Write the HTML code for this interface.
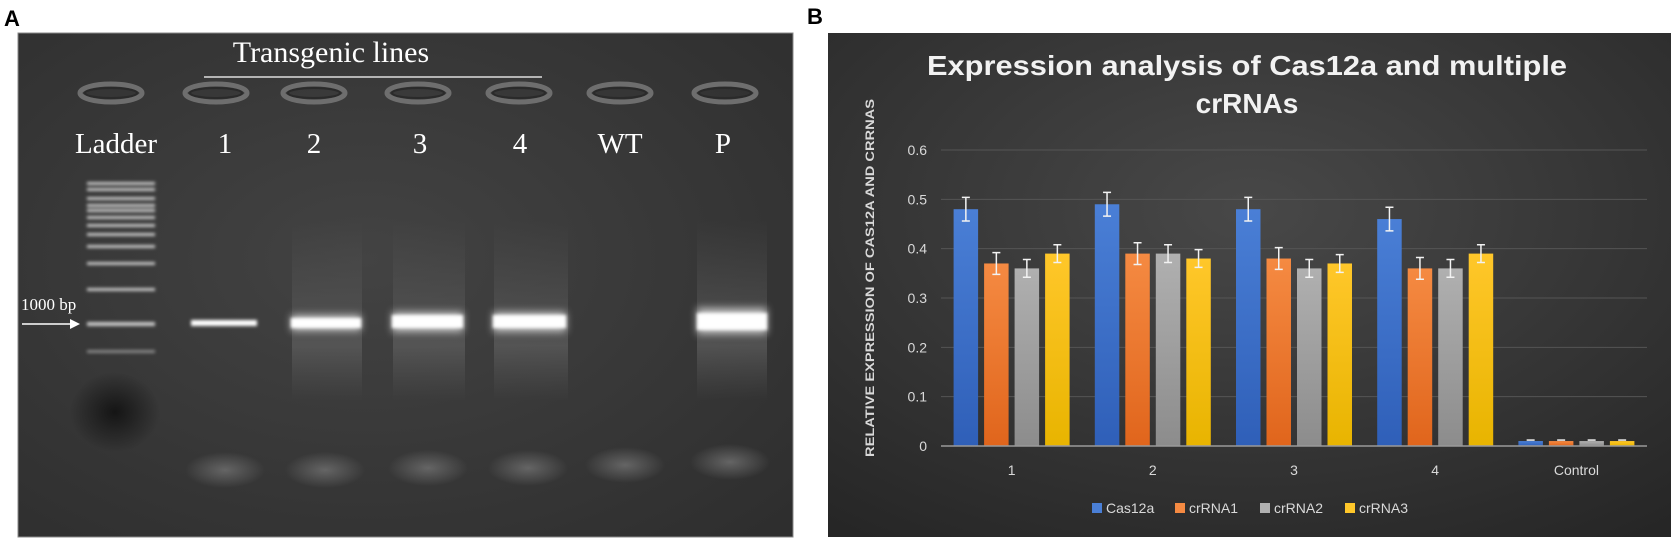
<!DOCTYPE html>
<html><head><meta charset="utf-8"><style>
html,body{margin:0;padding:0;background:#fff;width:1671px;height:539px;overflow:hidden}
svg{display:block}
</style></head><body>
<svg width="1671" height="539" viewBox="0 0 1671 539" xmlns="http://www.w3.org/2000/svg">
<defs>
<radialGradient id="gelbg" cx="0.45" cy="0.45" r="0.75">
<stop offset="0" stop-color="#434343"/><stop offset="1" stop-color="#2e2e2e"/></radialGradient>
<radialGradient id="chartbg" cx="0.5" cy="0.35" r="0.8">
<stop offset="0" stop-color="#484848"/><stop offset="1" stop-color="#262626"/></radialGradient>
<radialGradient id="blob" cx="0.5" cy="0.5" r="0.5">
<stop offset="0" stop-color="#6a6a6a" stop-opacity="0.9"/><stop offset="1" stop-color="#6a6a6a" stop-opacity="0"/></radialGradient>
<radialGradient id="dark" cx="0.5" cy="0.5" r="0.5">
<stop offset="0" stop-color="#111" stop-opacity="0.9"/><stop offset="1" stop-color="#111" stop-opacity="0"/></radialGradient>
<linearGradient id="smear" x1="0" y1="0" x2="0" y2="1">
<stop offset="0" stop-color="#555" stop-opacity="0"/><stop offset="0.7" stop-color="#5e5e5e" stop-opacity="0.7"/><stop offset="1" stop-color="#555" stop-opacity="0"/></linearGradient>
<filter id="glow" x="-20%" y="-100%" width="140%" height="300%"><feGaussianBlur stdDeviation="1.5"/></filter>
<filter id="glow2" x="-30%" y="-200%" width="160%" height="500%"><feGaussianBlur stdDeviation="4"/></filter>
</defs>

<!-- Panel A -->
<text x="4" y="26" font-family="Liberation Sans, sans-serif" font-weight="bold" font-size="22" fill="#000">A</text>
<g>
<rect x="18" y="33" width="775" height="504" fill="url(#gelbg)" stroke="#888" stroke-width="1"/>
<ellipse cx="115" cy="412" rx="45" ry="40" fill="url(#dark)"/>
<g fill="url(#smear)">
<rect x="292" y="220" width="70" height="180"/><rect x="393" y="220" width="72" height="180"/>
<rect x="494" y="220" width="74" height="180"/><rect x="697" y="220" width="70" height="180"/>
</g>
<g fill="none" stroke="#6e6e6e" stroke-width="5">
<ellipse cx="111" cy="93" rx="31" ry="9"/><ellipse cx="216" cy="93" rx="31" ry="9"/>
<ellipse cx="314" cy="93" rx="31" ry="9"/><ellipse cx="418" cy="93" rx="31" ry="9"/>
<ellipse cx="519" cy="93" rx="31" ry="9"/><ellipse cx="620" cy="93" rx="31" ry="9"/>
<ellipse cx="725" cy="93" rx="31" ry="9"/>
</g>
<g fill="none" stroke="#2a2a2a" stroke-width="2">
<ellipse cx="111" cy="93" rx="26" ry="5"/><ellipse cx="216" cy="93" rx="26" ry="5"/>
<ellipse cx="314" cy="93" rx="26" ry="5"/><ellipse cx="418" cy="93" rx="26" ry="5"/>
<ellipse cx="519" cy="93" rx="26" ry="5"/><ellipse cx="620" cy="93" rx="26" ry="5"/>
<ellipse cx="725" cy="93" rx="26" ry="5"/>
</g>
<g fill="#c8c8c8" filter="url(#glow)">
<rect x="87" y="182" width="68" height="3"/><rect x="87" y="188" width="68" height="3"/>
<rect x="87" y="197" width="68" height="3"/><rect x="87" y="204" width="68" height="3"/>
<rect x="87" y="209" width="68" height="3"/><rect x="87" y="216" width="68" height="3"/>
<rect x="87" y="224" width="68" height="3"/><rect x="87" y="233" width="68" height="3"/>
<rect x="87" y="245" width="68" height="3"/><rect x="87" y="262" width="68" height="3"/>
<rect x="87" y="288" width="68" height="3"/><rect x="87" y="322" width="68" height="4"/>
<rect x="87" y="350" width="68" height="3" fill="#888"/>
</g>
<g fill="#ddd" filter="url(#glow2)" opacity="0.8">
<rect x="291" y="315" width="70" height="16"/>
<rect x="392" y="312" width="71" height="20"/><rect x="493" y="312" width="73" height="20"/>
<rect x="697" y="308" width="70" height="26"/>
</g>
<g fill="#fff" filter="url(#glow)">
<rect x="191" y="320" width="66" height="6"/><rect x="291" y="318" width="70" height="10"/>
<rect x="392" y="315" width="71" height="13"/><rect x="493" y="315" width="73" height="13"/>
<rect x="697" y="313" width="70" height="17"/>
</g>
<g fill="url(#blob)">
<ellipse cx="225" cy="470" rx="40" ry="18"/><ellipse cx="325" cy="470" rx="40" ry="18"/>
<ellipse cx="428" cy="468" rx="40" ry="18"/><ellipse cx="528" cy="468" rx="40" ry="18"/>
<ellipse cx="625" cy="465" rx="40" ry="18"/><ellipse cx="730" cy="462" rx="40" ry="18"/>
</g>
<g font-family="Liberation Serif, serif" fill="#fff">
<text x="331" y="62" font-size="30" text-anchor="middle">Transgenic lines</text>
<line x1="204" y1="77" x2="542" y2="77" stroke="#ddd" stroke-width="1.5"/>
<g font-size="29" text-anchor="middle">
<text x="116" y="153">Ladder</text>
<text x="225" y="153">1</text>
<text x="314" y="153">2</text>
<text x="420" y="153">3</text>
<text x="520" y="153">4</text>
<text x="620" y="153">WT</text>
<text x="723" y="153">P</text>
</g>
<text x="21" y="310" font-size="17">1000 bp</text>
</g>
<g>
<line x1="22" y1="324" x2="72" y2="324" stroke="#fff" stroke-width="1.5"/>
<polygon points="80,324 70,319 70,329" fill="#fff"/>
</g>
</g>

<!-- Panel B -->
<text x="807" y="24" font-family="Liberation Sans, sans-serif" font-weight="bold" font-size="22" fill="#000">B</text>
<rect x="828" y="33" width="843" height="504" fill="url(#chartbg)"/>
<g font-family="Liberation Sans, sans-serif" font-weight="bold" fill="#f2f2f2" font-size="28" text-anchor="middle">
<text x="1247" y="75" textLength="640" lengthAdjust="spacingAndGlyphs">Expression analysis of Cas12a and multiple</text>
<text x="1247" y="113">crRNAs</text>
</g>
<text transform="translate(874,278) rotate(-90)" text-anchor="middle" font-family="Liberation Sans, sans-serif" font-weight="bold" font-size="12" fill="#d9d9d9" textLength="358" lengthAdjust="spacingAndGlyphs">RELATIVE EXPRESSION OF CAS12A  AND CRRNAS</text>
<g id="chart"></g>
</svg>
<script>
const categories = ["1","2","3","4","Control"];
const seriesNames = ["Cas12a","crRNA1","crRNA2","crRNA3"];
const cas12a = [0.48,0.49,0.48,0.46,0.01];
const crRNA1 = [0.37,0.39,0.38,0.36,0.01];
const crRNA2 = [0.36,0.39,0.36,0.36,0.01];
const crRNA3 = [0.39,0.38,0.37,0.39,0.01];
const errors = [0.024,0.022,0.018,0.018];
const yTicks = [0,0.1,0.2,0.3,0.4,0.5,0.6];

const NS='http://www.w3.org/2000/svg';
const g=document.getElementById('chart');
const series=[cas12a,crRNA1,crRNA2,crRNA3];
const colors=[["#4a7fd6","#2f5fb8"],["#f58a42","#e0651c"],["#b0b0b0","#8c8c8c"],["#ffc72a","#e8b400"]];
const x0=941,x1=1647,yBase=446,yTop=150,yMax=0.6;
const y=v=>yBase-(v/yMax)*(yBase-yTop);
const band=(x1-x0)/categories.length;
const barW=24.5,step=30.5;
function mk(t,a){const e=document.createElementNS(NS,t);for(const k in a)e.setAttribute(k,a[k]);g.appendChild(e);return e;}
const defs=mk('defs',{});
colors.forEach((c,i)=>{const lg=document.createElementNS(NS,'linearGradient');lg.setAttribute('id','bg'+i);lg.setAttribute('x1','0');lg.setAttribute('y1','0');lg.setAttribute('x2','0');lg.setAttribute('y2','1');
const s1=document.createElementNS(NS,'stop');s1.setAttribute('offset','0');s1.setAttribute('stop-color',c[0]);
const s2=document.createElementNS(NS,'stop');s2.setAttribute('offset','1');s2.setAttribute('stop-color',c[1]);lg.appendChild(s1);lg.appendChild(s2);defs.appendChild(lg);});
yTicks.forEach(t=>{
  if(t>0){const l=mk('line',{x1:x0,x2:x1,y1:y(t),y2:y(t),stroke:'#555',"stroke-width":1});
  
  }
  const tx=mk('text',{x:927,y:y(t)+5,"text-anchor":'end',"font-family":'Liberation Sans Narrow, Liberation Sans, sans-serif',"font-size":14,fill:'#d9d9d9'});
  tx.textContent=String(t);
  
  
});
categories.forEach((c,ci)=>{
  const cx=x0+band*(ci+0.5);
  series.forEach((s,si)=>{
    const bx=cx-(step*1.5)-barW/2+si*step;
    const r=mk('rect',{x:bx,y:y(s[ci]),width:barW,height:yBase-y(s[ci]),fill:'url(#bg'+si+')'});
    
    
    if(s[ci]>0.05){
      const e=errors[si],mx=bx+barW/2;
      const eb=mk('path',{d:`M${mx},${y(s[ci]+e)}V${y(s[ci]-e)}M${mx-4},${y(s[ci]+e)}H${mx+4}M${mx-4},${y(s[ci]-e)}H${mx+4}`,stroke:'#f2f2f2',"stroke-width":1.5,fill:'none'});
      
      
    } else {
      const eb=mk('path',{d:`M${bx+barW/2-4},${y(s[ci])-1}H${bx+barW/2+4}`,stroke:'#f2f2f2',"stroke-width":1.5});
      
      
    }
  });
  const t=mk('text',{x:cx,y:475,"text-anchor":'middle',"font-family":'Liberation Sans Narrow, Liberation Sans, sans-serif',"font-size":14,fill:'#d9d9d9'});
  t.textContent=c;
  
  
});
const ax=mk('line',{x1:x0,x2:x1,y1:yBase,y2:yBase,stroke:'#9a9a9a',"stroke-width":1.5});


const legX=[1092,1175,1260,1345];
seriesNames.forEach((n,i)=>{
  const sq=mk('rect',{x:legX[i],y:503,width:10,height:10,fill:colors[i][0]});
  
  
  const t=mk('text',{x:legX[i]+14,y:513,"font-family":'Liberation Sans Narrow, Liberation Sans, sans-serif',"font-size":14,fill:'#d9d9d9'});
  t.textContent=n;
  
  
});
</script>
</body></html>
